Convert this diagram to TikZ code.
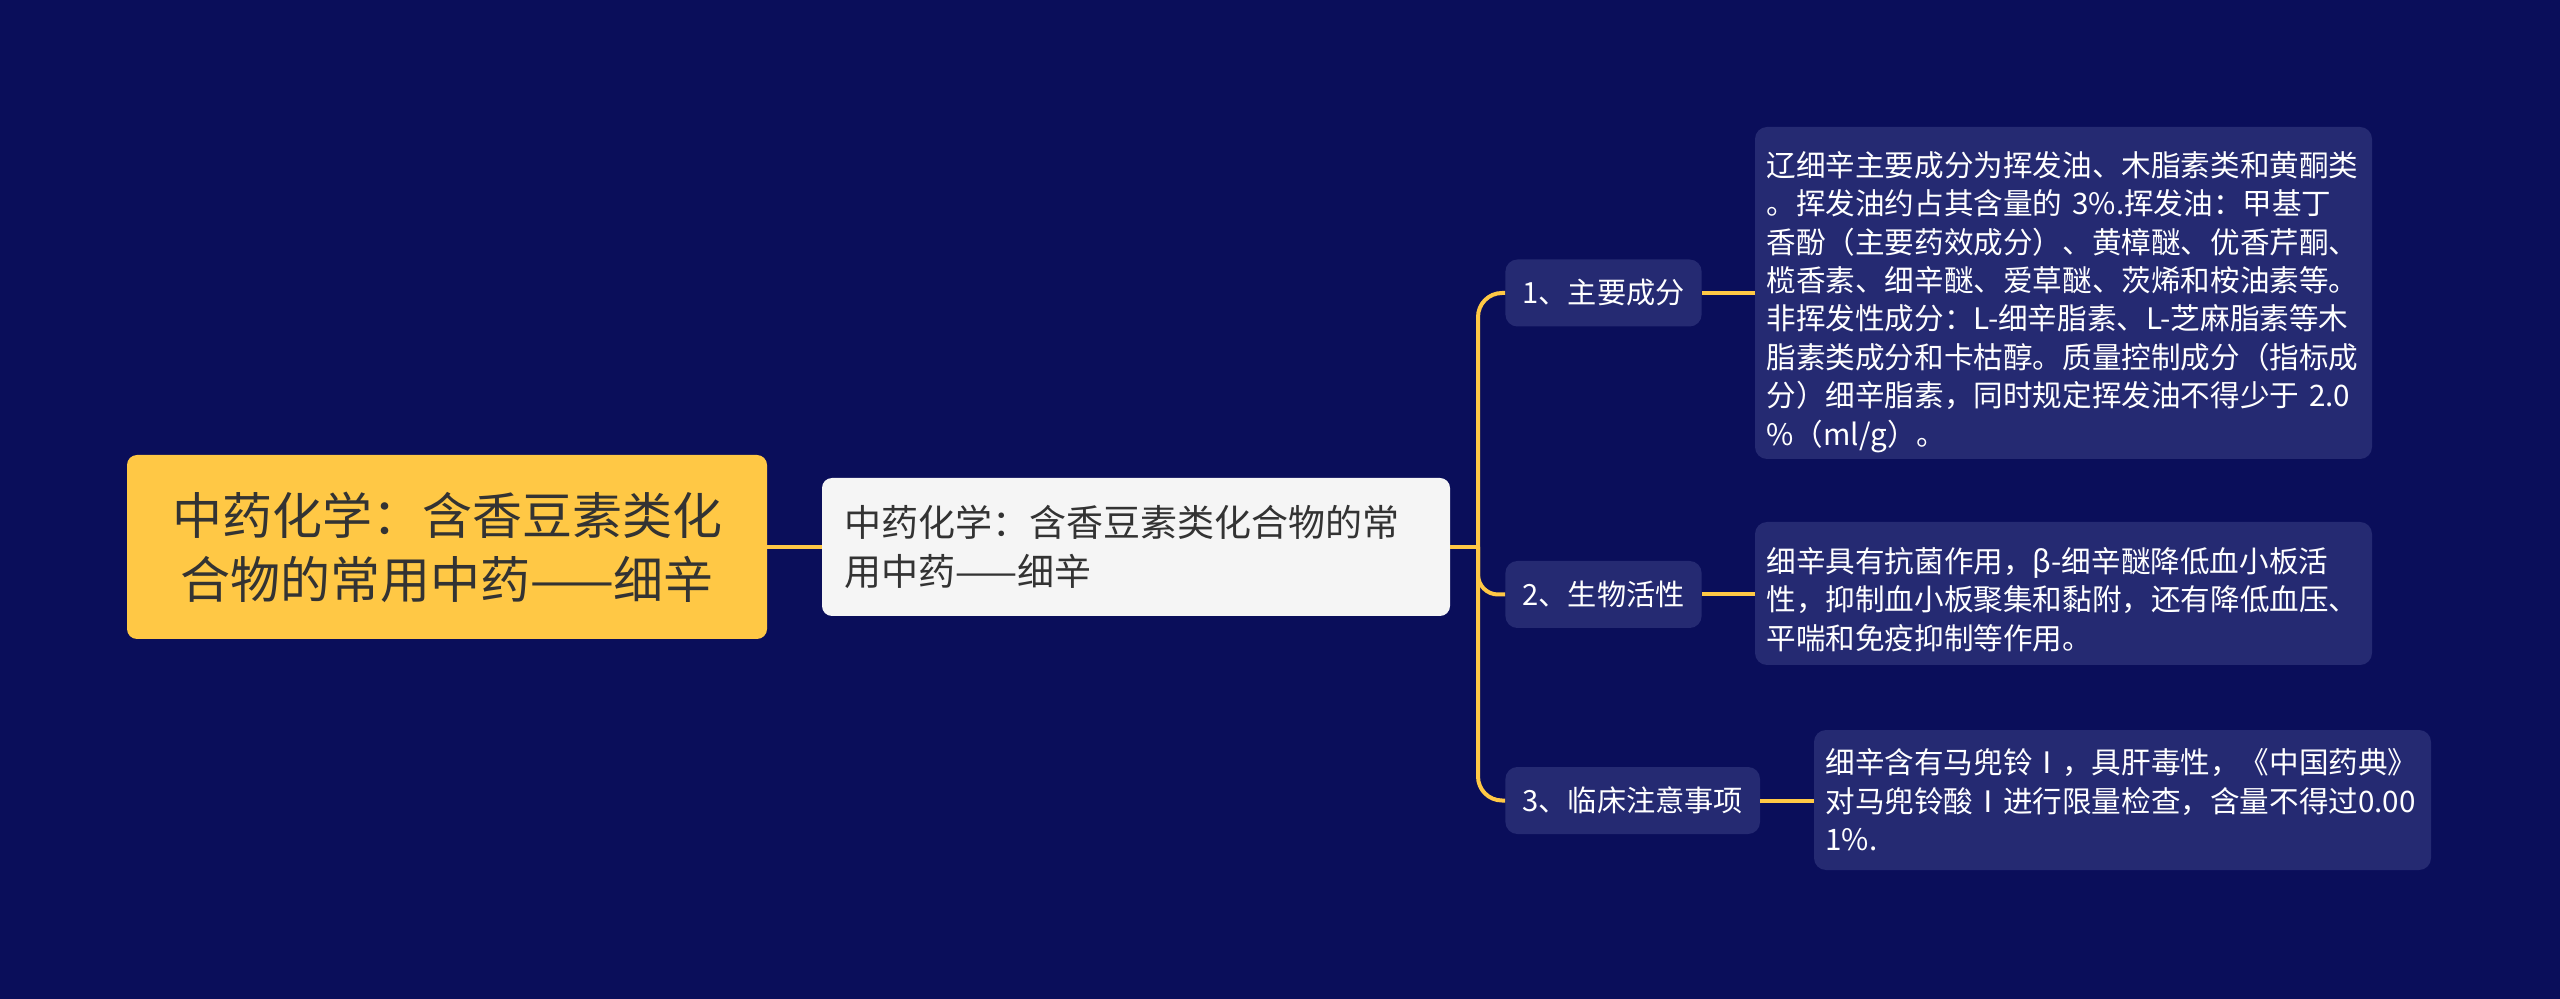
\documentclass[tikz,border=0pt]{standalone}
\usepackage{fontspec}
\setmainfont{Noto Sans CJK SC}
\definecolor{bgnavy}{RGB}{10,14,90}
\definecolor{nodeblue}{RGB}{37,42,114}
\definecolor{myyellow}{RGB}{255,200,69}
\definecolor{mylight}{RGB}{245,245,245}
\definecolor{mytext}{RGB}{51,51,51}
\begin{document}
\begin{tikzpicture}[x=0.5pt,y=-0.5pt,
  conn/.style={draw=myyellow, line width=2pt},
  rootbox/.style={fill=myyellow, rounded corners=5pt, text=mytext, font=\fontsize{25}{32}\selectfont, align=center, minimum width=320pt, minimum height=92pt, inner sep=0pt},
  ctrbox/.style={fill=mylight, rounded corners=5pt, text=mytext, font=\fontsize{18.5}{24.5}\selectfont, align=left, text width=292pt, minimum height=69pt, inner xsep=11pt, inner ysep=0pt},
  catbox/.style={fill=nodeblue, rounded corners=6pt, text=white, font=\fontsize{14.6}{19.1}\selectfont, minimum height=33.5pt, inner xsep=8.5pt, inner ysep=0pt, anchor=west},
  leafbox/.style={fill=nodeblue, rounded corners=6pt, text=white, font=\fontsize{14.8}{19.2}\selectfont, align=left, text width=297pt, inner xsep=5.75pt, inner ysep=0pt}
]
\fill[bgnavy] (0,0) rectangle (2560,999);
\useasboundingbox (0,0) rectangle (2560,999);

\node[rootbox] (root) at (447,547) {中药化学：含香豆素类化\\合物的常用中药——细辛};
\node[ctrbox] (ctr) at (1136,547) {中药化学：含香豆素类化合物的常\\用中药——细辛};
\coordinate (hub) at (1478,547);

\node[catbox] (b1) at (1505,293) {1、主要成分};
\node[catbox] (b2) at (1505,594.5) {2、生物活性};
\node[catbox] (b3) at (1505,800.5) {3、临床注意事项};

\node[leafbox, minimum height=166pt] (l1) at (2063.5,293) {\rule{0pt}{21.5pt}辽细辛主要成分为挥发油、木脂素类和黄酮类\\。挥发油约占其含量的 3\%.挥发油：甲基丁\\香酚（主要药效成分）、黄樟醚、优香芹酮、\\榄香素、细辛醚、爱草醚、茨烯和桉油素等。\\非挥发性成分：L-细辛脂素、L-芝麻脂素等木\\脂素类成分和卡枯醇。质量控制成分（指标成\\分）细辛脂素，同时规定挥发油不得少于 2.0\\\%（ml/g）。};
\node[leafbox, minimum height=71.5pt] (l2) at (2063.5,593.5) {\rule{0pt}{18.5pt}细辛具有抗菌作用，β-细辛醚降低血小板活\\性，抑制血小板聚集和黏附，还有降低血压、\\平喘和免疫抑制等作用。};
\node[leafbox, minimum height=70pt] (l3) at (2122.5,800) {细辛含有马兜铃Ⅰ，具肝毒性，《中国药典》\\对马兜铃酸Ⅰ进行限量检查，含量不得过0.00\\1\%.};

\draw[conn] (root.east) -- (ctr.west);
\draw[conn] (ctr.east) -- (hub);
\draw[conn, rounded corners=12pt] (hub) |- (b1.west);
\draw[conn, rounded corners=10pt] (hub) |- (b2.west);
\draw[conn, rounded corners=12pt] (hub) |- (b3.west);
\draw[conn] (b1.east) -- (b1.east -| l1.west);
\draw[conn] (b2.east) -- (b2.east -| l2.west);
\draw[conn] (b3.east) -- (b3.east -| l3.west);
\end{tikzpicture}
\end{document}
